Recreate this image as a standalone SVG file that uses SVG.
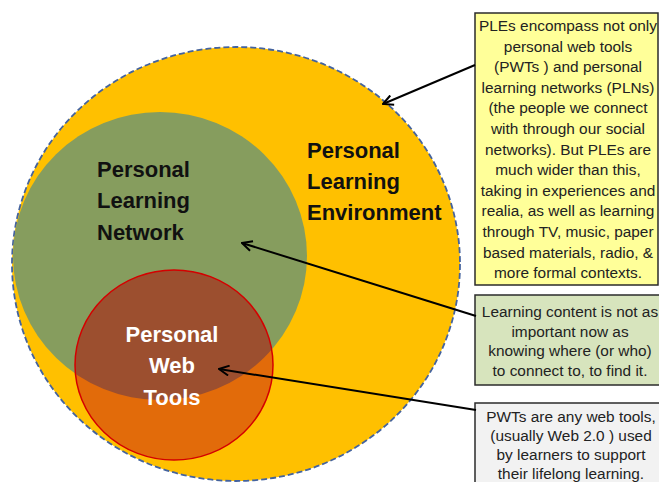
<svg xmlns="http://www.w3.org/2000/svg" width="659" height="482" viewBox="0 0 659 482">
<style>
.lbl{font-family:"Liberation Sans",Arial,sans-serif;font-weight:bold;font-size:22px;fill:#111}
.wlbl{font-family:"Liberation Sans",Arial,sans-serif;font-weight:bold;font-size:22px;fill:#fff}
.note{font-family:"Liberation Sans",Arial,sans-serif;font-size:15.4px;fill:#222;text-anchor:middle}
.box{stroke:#2b2b2b;stroke-width:1.5}
.conn{stroke:#000;stroke-width:2;fill:none;marker-end:url(#ah)}
</style>
<defs>
<marker id="ah" viewBox="0 0 12 12" refX="11" refY="6" markerWidth="12" markerHeight="12" markerUnits="userSpaceOnUse" orient="auto">
<path d="M1,1 L11,6 L1,11" fill="none" stroke="#000" stroke-width="2"/>
</marker>
<clipPath id="redclip"><ellipse cx="174" cy="365" rx="99" ry="95"/></clipPath>
</defs>
<rect width="659" height="482" fill="#fff"/>
<g id="ple">
<ellipse cx="236" cy="264" rx="224" ry="217" fill="#FFC000" stroke="#44639E" stroke-width="1.8" stroke-dasharray="6,3"/>
<text class="lbl" x="307" y="158">Personal</text>
<text class="lbl" x="307" y="189">Learning</text>
<text class="lbl" x="307" y="220">Environment</text>
</g>
<g id="pln">
<ellipse cx="160" cy="256" rx="147" ry="144" fill="#869D5E"/>
<text class="lbl" x="97" y="177">Personal</text>
<text class="lbl" x="97" y="208">Learning</text>
<text class="lbl" x="97" y="240">Network</text>
</g>
<g id="pwt">
<ellipse cx="174" cy="365" rx="99" ry="95" fill="#E26B0A"/>
<ellipse cx="160" cy="256" rx="147" ry="144" fill="#9C4F2F" clip-path="url(#redclip)"/>
<ellipse cx="174" cy="365" rx="99" ry="95" fill="none" stroke="#D40000" stroke-width="1.5"/>
<text class="wlbl" x="172" y="342" text-anchor="middle">Personal</text>
<text class="wlbl" x="172" y="373" text-anchor="middle">Web</text>
<text class="wlbl" x="172" y="405" text-anchor="middle">Tools</text>
</g>
<g id="note-ple">
<rect class="box" x="475" y="13" width="183" height="272" fill="#FFFF99"/>
<text class="note" x="568" y="31">PLEs encompass not only</text>
<text class="note" x="568" y="51.6">personal web tools</text>
<text class="note" x="568" y="72.2">(PWTs ) and personal</text>
<text class="note" x="568" y="92.8">learning networks (PLNs)</text>
<text class="note" x="568" y="113.4">(the people we connect</text>
<text class="note" x="568" y="134">with through our social</text>
<text class="note" x="568" y="154.6">networks). But PLEs are</text>
<text class="note" x="568" y="175.2">much wider than this,</text>
<text class="note" x="568" y="195.8">taking in experiences and</text>
<text class="note" x="568" y="216.4">realia, as well as learning</text>
<text class="note" x="568" y="237">through TV, music, paper</text>
<text class="note" x="568" y="257.6">based materials, radio, &amp;</text>
<text class="note" x="568" y="278.2">more formal contexts.</text>
</g>
<g id="note-pln">
<rect class="box" x="475" y="295" width="200" height="90" fill="#D7E4BD"/>
<text class="note" x="570" y="317">Learning content is not as</text>
<text class="note" x="570" y="336.5">important now as</text>
<text class="note" x="570" y="356">knowing where (or who)</text>
<text class="note" x="570" y="375.5">to connect to, to find it.</text>
</g>
<g id="note-pwt">
<rect class="box" x="475" y="403" width="200" height="90" fill="#F2F2F2"/>
<text class="note" x="571" y="422">PWTs are any web tools,</text>
<text class="note" x="571" y="441">(usually Web 2.0 ) used</text>
<text class="note" x="571" y="460">by learners to support</text>
<text class="note" x="571" y="479">their lifelong learning.</text>
</g>
<g id="connectors">
<line class="conn" x1="475" y1="65" x2="383" y2="104"/>
<line class="conn" x1="476" y1="316" x2="242" y2="243"/>
<line class="conn" x1="476" y1="410" x2="219" y2="369"/>
</g>
</svg>
